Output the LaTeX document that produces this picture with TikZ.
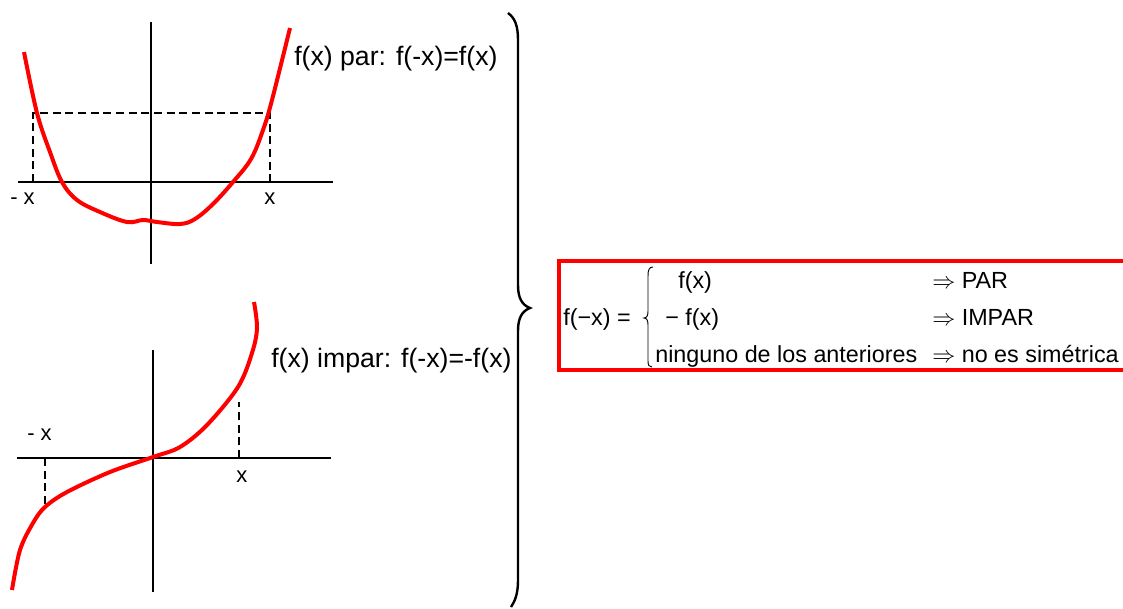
\documentclass[tikz,border=0pt]{standalone}
\usepackage{fontspec}
\setmainfont{Liberation Sans}
\begin{document}
\begin{tikzpicture}[x=0.75pt,y=-0.75pt,
  axis/.style={line width=1.5pt},
  guide/.style={line width=1.4pt, dash pattern=on 6pt off 3.5pt},
  fcurve/.style={red, line width=3pt},
  bigbrace/.style={line width=1.8pt},
  smallbrace/.style={line width=0.7pt},
  lbl/.style={font=\fontsize{20}{24}\selectfont, inner sep=0pt, anchor=base west},
  axlbl/.style={font=\fontsize{16.5}{20}\selectfont, inner sep=0pt, anchor=base west},
  boxtxt/.style={font=\fontsize{17.5}{21}\selectfont, inner sep=0pt, anchor=base west},
  framebox/.style={red, line width=3pt}]
\useasboundingbox (0,0) rectangle (1123,608);
\clip (0,0) rectangle (1123,608);

% ---------- upper graph (even function) ----------
\coordinate (uxl) at (18,182); \coordinate (uxr) at (333,182);
\coordinate (uyt) at (151,22); \coordinate (uyb) at (151,264);
\draw[axis] (uxl) -- (uxr);
\draw[axis] (uyt) -- (uyb);
\coordinate (udl) at (33,182); \coordinate (udlt) at (33,113);
\coordinate (udrt) at (270,113); \coordinate (udr) at (270,182);
\draw[guide] (udl) -- (udlt) -- (udrt) -- (udr);
\draw[fcurve] plot[smooth, tension=0.6] coordinates {
  (24,52) (37,113) (50,152) (62,182) (77,200) (100,212) (127,222) (143,220)
  (157,222) (180,224) (195,219) (213,204) (233,182) (251,159) (263,130)
  (272,100) (290,28)};
\node[lbl] (lpar) at (294,65) {f(x) par: f(-x)=f(x)};
\node[axlbl] (umx) at (10,204) {- x};
\node[axlbl] (upx) at (264,204) {x};

% ---------- lower graph (odd function) ----------
\coordinate (lxl) at (17,458); \coordinate (lxr) at (331,458);
\coordinate (lyt) at (153,350); \coordinate (lyb) at (153,592);
\draw[axis] (lxl) -- (lxr);
\draw[axis] (lyt) -- (lyb);
\coordinate (ldl) at (45,458); \coordinate (ldlb) at (45,505);
\coordinate (ldr) at (239,458); \coordinate (ldrt) at (239,402);
\draw[guide] (ldl) -- (ldlb);
\draw[guide] (ldr) -- (ldrt);
\draw[fcurve] plot[smooth, tension=0.55] coordinates {
  (12,590) (20,550) (33,523) (45,507) (67,492) (110,472) (153,457)
  (180,447) (207,425) (238,387) (252,353) (257,328) (254,302)};
\node[lbl] (limpar) at (271,367) {f(x) impar: f(-x)=-f(x)};
\node[axlbl] (lmx) at (27,440) {- x};
\node[axlbl] (lpx) at (236,482) {x};

% ---------- big right brace ----------
\draw[bigbrace] (508,13) .. controls (515,18) and (518,26) .. (518,40)
  -- (518,285) .. controls (518,298) and (522,305) .. (530,308)
  .. controls (522,311) and (518,318) .. (518,331)
  -- (518,580) .. controls (518,594) and (515,601) .. (511,607);

% ---------- summary box ----------
\draw[framebox] (559,261) rectangle (1140,370);
\node[boxtxt] (fmx) at (563,325) {f(−x) =};
\draw[smallbrace] (653,267) .. controls (649,267) and (648,270) .. (648,276)
  -- (648,311) .. controls (648,315) and (647,318) .. (644,318)
  .. controls (647,318) and (648,321) .. (648,325)
  -- (648,361) .. controls (648,365) and (649,367) .. (652,367);
\node[boxtxt] (r1) at (678,288) {f(x)};
\node[boxtxt] (r2) at (665,325) {− f(x)};
\node[boxtxt] (r3) at (655,362) {ninguno de los anteriores};
\node[boxtxt] (i1) at (932,288) {$\Rightarrow$ PAR};
\node[boxtxt] (i2) at (932,325) {$\Rightarrow$ IMPAR};
\node[boxtxt] (i3) at (932,362) {$\Rightarrow$ no es simétrica};
\end{tikzpicture}
\end{document}
